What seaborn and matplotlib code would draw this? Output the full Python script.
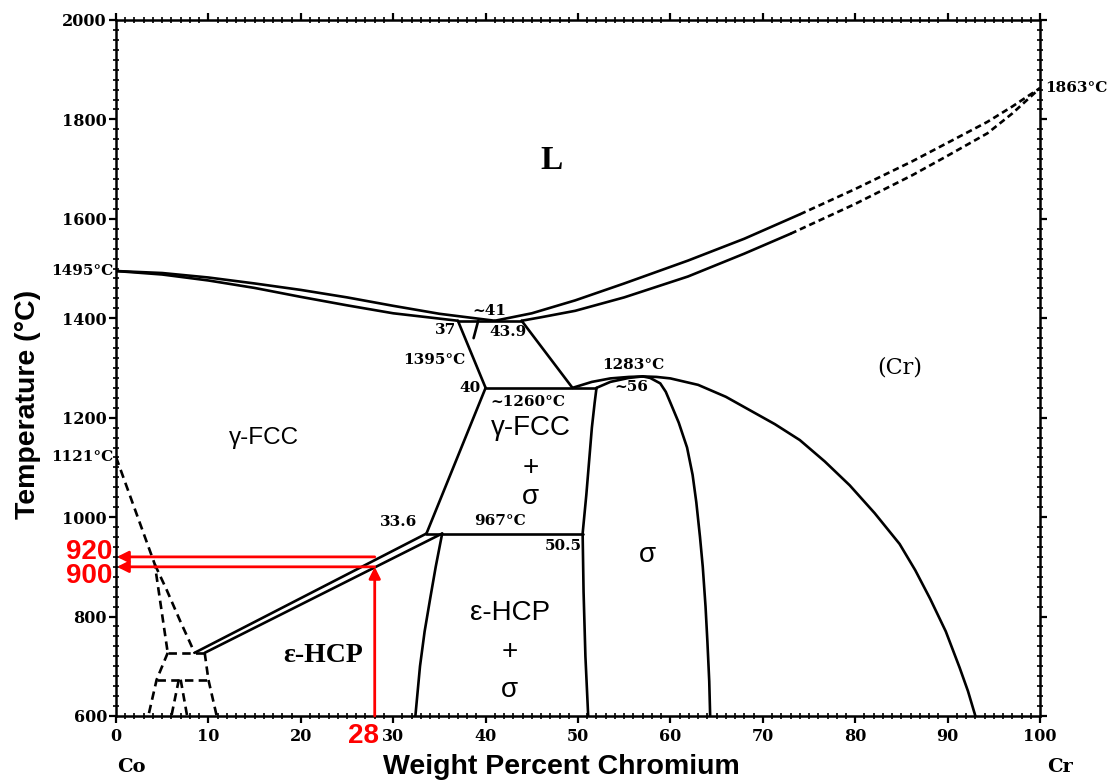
import numpy as np
import pandas as pd
import matplotlib
matplotlib.use("Agg")
import matplotlib.pyplot as plt
from matplotlib.ticker import MultipleLocator
import seaborn as sns

# ---- phase boundaries of the Co-Cr system (wt.% Cr, temperature in degC) ----
liq_co_x = [0, 5, 10, 15, 20, 25, 30, 35, 41]
liq_co_t = [1495, 1491, 1482, 1470, 1457, 1442, 1425, 1409, 1395]
sol_co_x = [0, 5, 10, 15, 20, 25, 30, 37]
sol_co_t = [1495, 1488, 1476, 1461, 1443, 1426, 1410, 1395]

liq_cr_x = [41, 45, 49.7, 55, 61.9, 68, 74]
liq_cr_t = [1395, 1410, 1436, 1470, 1516, 1560, 1609]
liq_cr_dash_x = [74, 80, 86.2, 90, 94.3, 97, 100]
liq_cr_dash_t = [1609, 1660, 1716, 1753, 1795, 1826, 1863]
sol_cr_x = [43.9, 46, 49.7, 55, 61.9, 68, 73]
sol_cr_t = [1395, 1402, 1415, 1442, 1484, 1530, 1570]
sol_cr_dash_x = [73, 80, 86.2, 90, 94.3, 97, 100]
sol_cr_dash_t = [1570, 1630, 1688, 1727, 1772, 1812, 1863]

eut_x, eut_t = [37, 43.9], [1395, 1395]
gam_solvus_x, gam_solvus_t = [37, 40], [1395, 1260]
cr_solvus_hi_x, cr_solvus_hi_t = [43.9, 49.4], [1395, 1260]
eut_tick_x, eut_tick_t = [39.2, 38.7], [1395, 1360]
per_x, per_t = [40, 52], [1260, 1260]

cr_solvus_x = [49.4, 51.5, 53.5, 55.5, 57, 58.5, 60, 63, 66, 68.6, 71.3, 74,
               76.7, 79.4, 82.1, 84.8, 86.5, 88.1, 89.8, 91.3, 92.2, 93]
cr_solvus_t = [1260, 1272, 1279, 1282, 1283, 1282, 1279, 1266, 1242, 1215,
               1187, 1155, 1112, 1064, 1008, 946, 893, 836, 770, 697, 650, 600]
sig_lens_x = [52, 53.5, 55.5, 57]
sig_lens_t = [1260, 1272, 1280, 1283]
sig_right_x = [57, 57.8, 58.9, 59.5, 60, 60.9, 61.8, 62.4, 62.8, 63.2, 63.5,
               63.8, 64, 64.2, 64.3]
sig_right_t = [1283, 1280, 1269, 1252, 1230, 1190, 1140, 1085, 1030, 960, 900,
               820, 750, 670, 600]
sig_left_x = [52, 51.8, 51.5, 50.9, 50.5, 50.6, 50.8, 51.1]
sig_left_t = [1260, 1230, 1180, 1045, 967, 850, 720, 600]

box_left_x, box_left_t = [40, 33.6], [1260, 967]
eutd_x, eutd_t = [33.6, 50.5], [967, 967]
eps_sig_x = [35.3, 34.6, 34.0, 33.4, 32.9, 32.4]
eps_sig_t = [967, 900, 836, 770, 700, 600]
eps_hi_x, eps_hi_t = [8.5, 33.6], [727, 967]
eps_lo_x, eps_lo_t = [9.6, 35.3], [727, 967]

# dashed low-temperature boundaries near pure Co
mag_x, mag_t = [0, 4.2, 5.6], [1121, 905, 727]
mag_b_x = [4.2, 5.5, 6.9, 8.0, 8.5]
mag_b_t = [905, 853, 793, 748, 727]
h727_x, h727_t = [5.6, 9.6], [727, 727]
h673_x, h673_t = [4.4, 10.0], [673, 673]
low_l_x, low_l_t = [5.6, 4.4, 3.5], [727, 673, 600]
low_r_x, low_r_t = [9.6, 10.0, 10.9], [727, 673, 600]
in_l_x, in_l_t = [6.8, 6.0], [673, 600]
in_r_x, in_r_t = [7.0, 7.7], [673, 600]

# composition read-off at 28 wt.% Cr
read_x = 28
read_t_hi, read_t_lo = 920, 900

x_ticks = list(range(0, 101, 10))
y_ticks = list(range(600, 2001, 200))

sns.set_theme(style="white")
plt.rcParams["font.family"] = ["Liberation Sans", "DejaVu Sans"]
plt.rcParams["text.color"] = "black"
plt.rcParams["axes.labelcolor"] = "black"
plt.rcParams["xtick.color"] = "black"
plt.rcParams["ytick.color"] = "black"

fig, ax = plt.subplots(figsize=(11.12, 7.83), dpi=100)
fig.subplots_adjust(left=0.1043, right=0.9353, bottom=0.0856, top=0.9745)

LW = 1.9


def boundary(xs, ts, dashed=False, dash=(3.2, 2.0)):
    df = pd.DataFrame({"x": xs, "t": ts})
    kw = dict(linestyle=(0, dash)) if dashed else {}
    sns.lineplot(data=df, x="x", y="t", sort=False, estimator=None,
                 color="black", lw=LW, ax=ax, legend=False, **kw)


for xs, ts in [(liq_co_x, liq_co_t), (sol_co_x, sol_co_t),
               (liq_cr_x, liq_cr_t), (sol_cr_x, sol_cr_t),
               (eut_x, eut_t), (gam_solvus_x, gam_solvus_t),
               (cr_solvus_hi_x, cr_solvus_hi_t), (eut_tick_x, eut_tick_t),
               (per_x, per_t), (cr_solvus_x, cr_solvus_t),
               (sig_lens_x, sig_lens_t), (sig_right_x, sig_right_t),
               (sig_left_x, sig_left_t), (box_left_x, box_left_t),
               (eutd_x, eutd_t), (eps_sig_x, eps_sig_t),
               (eps_hi_x, eps_hi_t), (eps_lo_x, eps_lo_t)]:
    boundary(xs, ts)

for xs, ts in [(liq_cr_dash_x, liq_cr_dash_t), (sol_cr_dash_x, sol_cr_dash_t)]:
    boundary(xs, ts, dashed=True, dash=(2.4, 1.5))

for xs, ts in [(mag_x, mag_t), (mag_b_x, mag_b_t), (h727_x, h727_t),
               (h673_x, h673_t), (low_l_x, low_l_t), (low_r_x, low_r_t),
               (in_l_x, in_l_t), (in_r_x, in_r_t)]:
    boundary(xs, ts, dashed=True)

# red read-off arrows
red = "#ff0000"
arrow = dict(arrowstyle="-|>", color=red, lw=2.0, mutation_scale=17,
             shrinkA=0, shrinkB=0)
for t in (read_t_hi, read_t_lo):
    ax.annotate("", xy=(0.1, t), xytext=(read_x, t), arrowprops=arrow,
                annotation_clip=False)
ax.annotate("", xy=(read_x, read_t_lo), xytext=(read_x, 600), arrowprops=arrow,
            annotation_clip=False)

# axes, ticks
ax.set_xlim(0, 100)
ax.set_ylim(600, 2000)
ax.set_xticks(x_ticks)
ax.set_yticks(y_ticks)
ax.xaxis.set_minor_locator(MultipleLocator(1))
ax.yaxis.set_minor_locator(MultipleLocator(20))
ax.tick_params(which="major", direction="out", length=5, width=1.6,
               top=True, right=True, bottom=True, left=True,
               labeltop=False, labelright=False, colors="black")
ax.tick_params(axis="y", which="major", pad=1.5)
ax.tick_params(axis="x", which="major", pad=3.5)
ax.tick_params(which="minor", direction="inout", length=4, width=1.2,
               top=True, right=True, bottom=True, left=True)
for lab in ax.get_xticklabels() + ax.get_yticklabels():
    lab.set_fontfamily("DejaVu Serif")
    lab.set_fontweight("bold")
    lab.set_fontsize(11.5)
for s in ax.spines.values():
    s.set_color("black")
    s.set_linewidth(1.8)
ax.set_xlabel("")
ax.set_ylabel("")

ax.text(-0.095, 0.447, "Temperature (\u00b0C)", transform=ax.transAxes,
        rotation=90, ha="center", va="center", fontsize=20.5,
        fontweight="bold", color="black")
ax.text(48.2, -0.074, "Weight Percent Chromium",
        transform=ax.get_xaxis_transform(), ha="center", va="center",
        fontsize=20.5, fontweight="bold", color="black")
serif_b = dict(family="DejaVu Serif", fontweight="bold", color="black")
ax.text(1.7, -0.074, "Co", transform=ax.get_xaxis_transform(),
        ha="center", va="center", fontsize=14, **serif_b)
ax.text(102.2, -0.074, "Cr", transform=ax.get_xaxis_transform(),
        ha="center", va="center", fontsize=14, **serif_b)

# red read-off values
red_txt = dict(color=red, fontweight="bold", fontsize=20)
ax.text(-0.4, 929, "920", ha="right", va="center", clip_on=False, **red_txt)
ax.text(-0.4, 881, "900", ha="right", va="center", clip_on=False, **red_txt)
ax.text(26.8, -0.029, "28", transform=ax.get_xaxis_transform(),
        ha="center", va="center", **red_txt)

# small point labels
small = dict(fontsize=11, ha="center", va="center", clip_on=False, **serif_b)
ax.text(-0.3, 1495, "1495\u00b0C", **{**small, "ha": "right"})
ax.text(-0.3, 1121, "1121\u00b0C", **{**small, "ha": "right"})
ax.text(100.6, 1863, "1863\u00b0C", **{**small, "ha": "left"})
ax.text(40.4, 1414, "~41", **small)
ax.text(35.7, 1376, "37", **small)
ax.text(42.4, 1372, "43.9", **small)
ax.text(34.4, 1316, "1395\u00b0C", **small)
ax.text(38.3, 1260, "40", **small)
ax.text(44.6, 1232, "~1260\u00b0C", **small)
ax.text(56.0, 1305, "1283\u00b0C", **small)
ax.text(55.8, 1261, "~56", **small)
ax.text(30.6, 990, "33.6", **small)
ax.text(41.6, 992, "967\u00b0C", **small)
ax.text(48.4, 942, "50.5", **small)

# phase field labels
ax.text(47.1, 1718, "L", ha="center", va="center", fontsize=24,
        family="Liberation Serif", fontweight="bold", color="black")
ax.text(84.8, 1300, "(Cr)", ha="center", va="center", fontsize=16,
        family="DejaVu Serif", color="black")
ax.text(22.4, 722, "\u03b5-HCP", ha="center", va="center", fontsize=20,
        family="Liberation Serif", fontweight="bold", color="black")
sans = dict(ha="center", va="center", fontsize=20, color="black")
ax.text(16.0, 1159, "\u03b3-FCC", **{**sans, "fontsize": 17.5})
ax.text(44.9, 1179, "\u03b3-FCC", **sans)
ax.text(44.9, 1099, "+", **sans)
ax.text(44.9, 1040, "\u03c3", **sans)
ax.text(57.5, 923, "\u03c3", **sans)
ax.text(42.6, 807, "\u03b5-HCP", **sans)
ax.text(42.6, 728, "+", **sans)
ax.text(42.6, 652, "\u03c3", **sans)

fig.savefig("out.png", dpi=100, facecolor="white")
